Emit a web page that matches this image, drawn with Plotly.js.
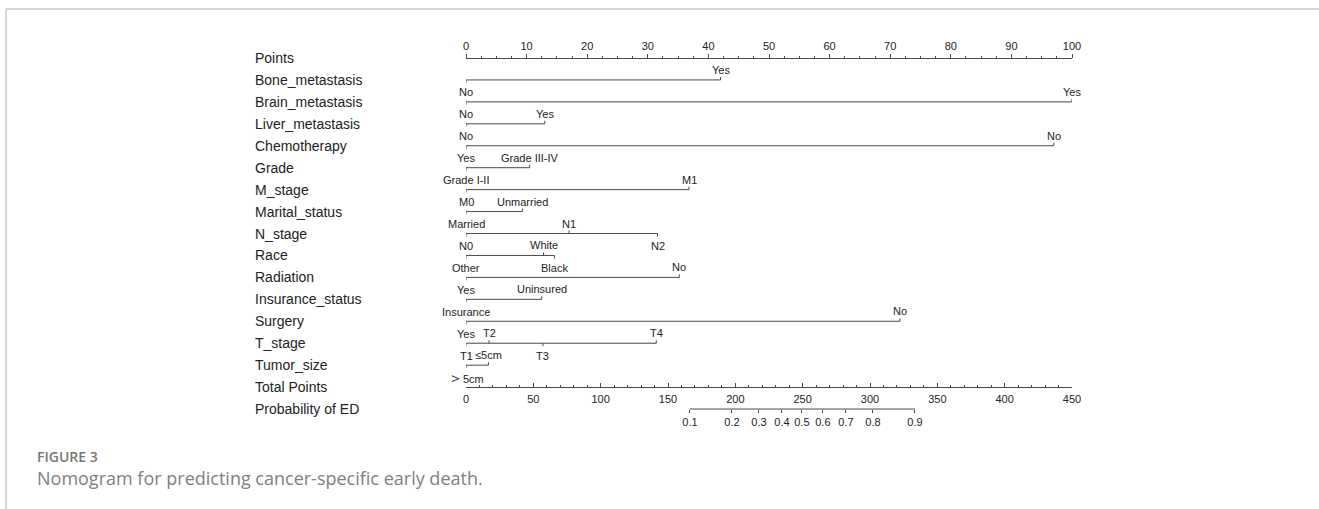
<!DOCTYPE html>
<html>
<head>
<meta charset="utf-8">
<script src="https://cdn.plot.ly/plotly-3.0.1.min.js"></script>
<style>
  html, body { margin: 0; padding: 0; background: #ffffff; }
  #chart { width: 1319px; height: 509px; }
</style>
</head>
<body>
<div id="chart"></div>
<script>
// Row captions, top to bottom
const rowNames = ['Points', 'Bone_metastasis', 'Brain_metastasis', 'Liver_metastasis',
  'Chemotherapy', 'Grade', 'M_stage', 'Marital_status', 'N_stage', 'Race', 'Radiation',
  'Insurance_status', 'Surgery', 'T_stage', 'Tumor_size', 'Total Points', 'Probability of ED'];

// Predictor levels and their points (0-100 scale)
const boneLevels = ['No', 'Yes'];                 const bonePoints = [0, 42];
const brainLevels = ['No', 'Yes'];                const brainPoints = [0, 100];
const liverLevels = ['No', 'Yes'];                const liverPoints = [0, 13];
const chemoLevels = ['Yes', 'No'];                const chemoPoints = [0, 97];
const gradeLevels = ['Grade I-II', 'Grade III-IV']; const gradePoints = [0, 10.5];
const mLevels = ['M0', 'M1'];                     const mPoints = [0, 36.8];
const maritalLevels = ['Married', 'Unmarried'];   const maritalPoints = [0, 9.3];
const nLevels = ['N0', 'N1', 'N2'];               const nPoints = [0, 17, 31.6];
const raceLevels = ['Other', 'White', 'Black'];   const racePoints = [0, 12.8, 14.6];
const radiationLevels = ['Yes', 'No'];            const radiationPoints = [0, 35.2];
const insuranceLevels = ['Insurance', 'Uninsured']; const insurancePoints = [0, 12.5];
const surgeryLevels = ['Yes', 'No'];              const surgeryPoints = [0, 71.6];
const tLevels = ['T1', 'T2', 'T3', 'T4'];         const tPoints = [0, 3.8, 12.7, 31.4];
const sizeLevels = ['<span style="font-size:15px">＞</span>5cm', '≤5cm']; const sizePoints = [0, 3.7];

// Axis ticks
const pointsTicks = [0, 10, 20, 30, 40, 50, 60, 70, 80, 90, 100];
const totalTicks = [0, 50, 100, 150, 200, 250, 300, 350, 400, 450];
const probLabels = ['0.1', '0.2', '0.3', '0.4', '0.5', '0.6', '0.7', '0.8', '0.9'];
const probTotals = [166.3, 197.5, 217.5, 234.6, 249.4, 265.0, 282.1, 302.2, 333.4];

const predictors = [
  { row: 1, levels: boneLevels, points: bonePoints },
  { row: 2, levels: brainLevels, points: brainPoints },
  { row: 3, levels: liverLevels, points: liverPoints },
  { row: 4, levels: chemoLevels, points: chemoPoints },
  { row: 5, levels: gradeLevels, points: gradePoints },
  { row: 6, levels: mLevels, points: mPoints },
  { row: 7, levels: maritalLevels, points: maritalPoints },
  { row: 8, levels: nLevels, points: nPoints },
  { row: 9, levels: raceLevels, points: racePoints },
  { row: 10, levels: radiationLevels, points: radiationPoints },
  { row: 11, levels: insuranceLevels, points: insurancePoints },
  { row: 12, levels: surgeryLevels, points: surgeryPoints },
  { row: 13, levels: tLevels, points: tPoints },
  { row: 14, levels: sizeLevels, points: sizePoints }
];

// Page geometry
const W = 1319, H = 509;
const ROW_TOP = 58, ROW_STEP = 21.94;
const yRange = [(H - ROW_TOP) / ROW_STEP, -ROW_TOP / ROW_STEP];
const rowPaper = r => (yRange[0] - r) / (yRange[0] - yRange[1]);
const scaleDomain = [466 / W, 1072 / W];

const INK = '#4a4a4a';
const TXT = '#222222';
const FONT = 'Arial, "Liberation Sans", sans-serif';

const traces = [];
const shapes = [];
const annotations = [];

// Predictor scales: baseline, end ticks and level labels alternating below/above
predictors.forEach(p => {
  const lo = Math.min(...p.points), hi = Math.max(...p.points);
  traces.push({
    type: 'scatter', mode: 'lines', x: [lo, hi], y: [p.row, p.row],
    xaxis: 'x', yaxis: 'y', line: { color: INK, width: 1 }, hoverinfo: 'skip', showlegend: false
  });
  const order = p.points.map((v, i) => i).sort((a, b) => p.points[a] - p.points[b]);
  order.forEach((idx, k) => {
    const above = k % 2 === 1;
    const v = p.points[idx];
    shapes.push({
      type: 'line', xref: 'x', yref: 'y', ysizemode: 'pixel', yanchor: p.row,
      x0: v, x1: v, y0: 0, y1: above ? 3 : -3, line: { color: INK, width: 1 }
    });
    annotations.push({
      xref: 'x', yref: 'y', x: v, y: p.row, yshift: above ? 10 : -12.5,
      text: p.levels[idx], showarrow: false, xanchor: 'center', yanchor: 'middle',
      font: { family: FONT, size: 11, color: TXT }
    });
  });
});

// Total points axis carrier and probability scale line
traces.push({
  type: 'scatter', mode: 'none', x: [totalTicks[0], totalTicks[totalTicks.length - 1]], y: [15, 15],
  xaxis: 'x2', yaxis: 'y', hoverinfo: 'skip', showlegend: false
});
traces.push({
  type: 'scatter', mode: 'lines', x: [probTotals[0], probTotals[probTotals.length - 1]], y: [16, 16],
  xaxis: 'x3', yaxis: 'y', line: { color: INK, width: 1 }, hoverinfo: 'skip', showlegend: false
});

// Row captions
rowNames.forEach((name, r) => {
  annotations.push({
    xref: 'paper', yref: 'y', x: 253 / W, y: r, text: name, showarrow: false,
    xanchor: 'left', yanchor: 'middle', font: { family: FONT, size: 14, color: TXT }
  });
});

// Figure caption
annotations.push({
  xref: 'paper', yref: 'paper', x: 35 / W, y: 1 - 456 / H, text: 'FIGURE 3', showarrow: false,
  xanchor: 'left', yanchor: 'middle',
  font: { family: '"Open Sans", sans-serif', size: 14, color: '#777777', weight: 600 }
});
annotations.push({
  xref: 'paper', yref: 'paper', x: 35 / W, y: 1 - 478 / H,
  text: 'Nomogram for predicting cancer-specific early death.', showarrow: false,
  xanchor: 'left', yanchor: 'middle',
  font: { family: '"Open Sans", sans-serif', size: 18, color: '#808080' }
});

// Panel border (top and left)
shapes.push({ type: 'line', xref: 'paper', yref: 'paper', x0: 6 / W, x1: 1, y0: 1 - 9 / H, y1: 1 - 9 / H,
  line: { color: '#c8c8c8', width: 1.5 } });
shapes.push({ type: 'line', xref: 'paper', yref: 'paper', x0: 6 / W, x1: 6 / W, y0: 1 - 9 / H, y1: 0,
  line: { color: '#c8c8c8', width: 1.5 } });

const tickFont = { family: FONT, size: 11, color: TXT };

const layout = {
  width: W, height: H,
  margin: { l: 0, r: 0, t: 0, b: 0, pad: 0 },
  paper_bgcolor: '#ffffff', plot_bgcolor: 'rgba(0,0,0,0)',
  showlegend: false,
  xaxis: {
    domain: scaleDomain, range: [0, 100], anchor: 'free', position: rowPaper(0), side: 'top',
    tickmode: 'array', tickvals: pointsTicks, ticktext: pointsTicks.map(String),
    ticks: 'outside', ticklen: 4, tickwidth: 1, tickcolor: INK,
    minor: { ticks: 'outside', dtick: 2.5, tick0: 0, ticklen: 2.5, tickwidth: 1, tickcolor: INK, showgrid: false },
    showline: true, linecolor: INK, linewidth: 1, showgrid: false, zeroline: false,
    tickfont: tickFont, fixedrange: true
  },
  xaxis2: {
    overlaying: 'x', domain: scaleDomain, range: [0, 450], anchor: 'free', position: rowPaper(15), side: 'bottom',
    tickmode: 'array', tickvals: totalTicks, ticktext: totalTicks.map(String),
    ticks: 'inside', ticklen: 4, tickwidth: 1, tickcolor: INK, ticklabelstandoff: 2,
    minor: { ticks: 'inside', dtick: 10, tick0: 0, ticklen: 2.5, tickwidth: 1, tickcolor: INK, showgrid: false },
    showline: true, linecolor: INK, linewidth: 1, showgrid: false, zeroline: false,
    tickfont: tickFont, fixedrange: true
  },
  xaxis3: {
    overlaying: 'x', domain: scaleDomain, range: [0, 450], anchor: 'free', position: rowPaper(16), side: 'bottom',
    tickmode: 'array', tickvals: probTotals, ticktext: probLabels,
    ticks: 'outside', ticklen: 3, tickwidth: 1, tickcolor: INK,
    showline: false, showgrid: false, zeroline: false,
    tickfont: tickFont, fixedrange: true
  },
  yaxis: { range: yRange, visible: false, fixedrange: true, domain: [0, 1] },
  shapes: shapes,
  annotations: annotations
};

Plotly.newPlot('chart', traces, layout, { staticPlot: true, displayModeBar: false });
</script>
</body>
</html>
